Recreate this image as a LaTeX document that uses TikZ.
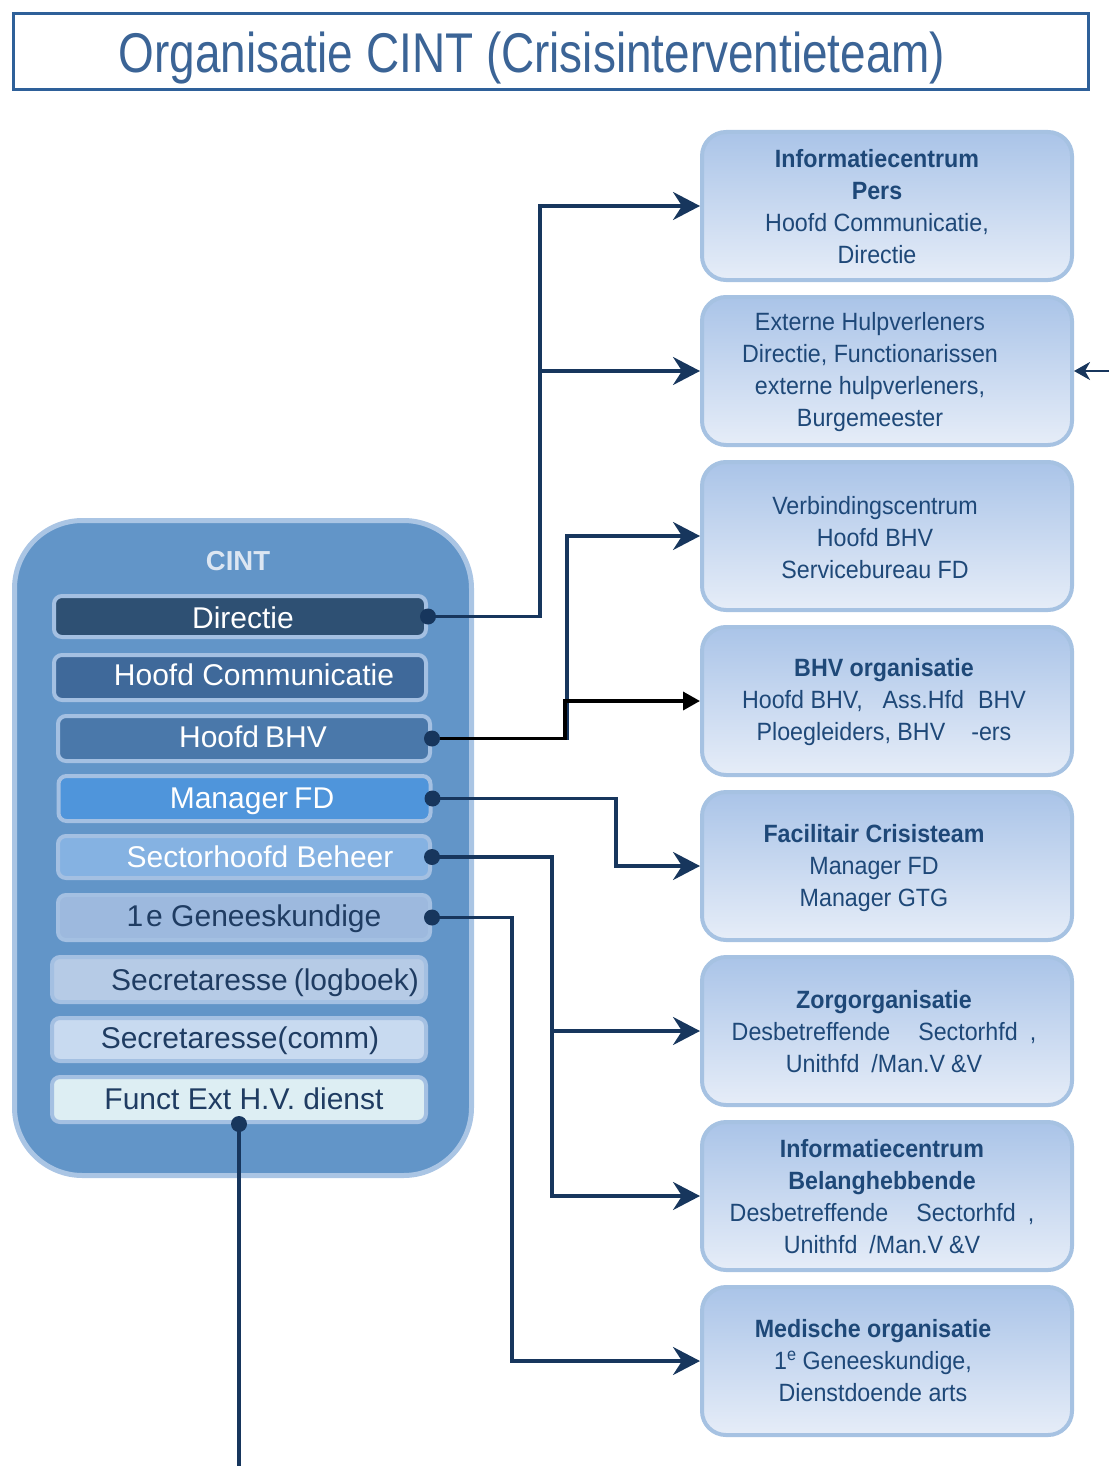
\documentclass[tikz,border=0pt]{standalone}
\usepackage{fontspec}
\setmainfont{Liberation Sans}
\newfontfamily\titlefont[FakeStretch=0.82]{Liberation Sans}
\newfontfamily\rowfont{Liberation Sans}
\newfontfamily\boxfont[FakeStretch=0.93]{Liberation Sans}
\usetikzlibrary{arrows.meta}

\definecolor{titleblue}{RGB}{46,96,153}
\definecolor{titletext}{RGB}{59,100,150}
\definecolor{navy}{RGB}{23,54,93}
\definecolor{panelfill}{RGB}{98,149,200}
\definecolor{paneledge}{RGB}{170,197,228}
\definecolor{rowedge}{RGB}{164,192,226}
\definecolor{rowA}{RGB}{46,80,115}
\definecolor{rowB}{RGB}{63,105,154}
\definecolor{rowC}{RGB}{74,120,170}
\definecolor{rowD}{RGB}{79,149,219}
\definecolor{rowE}{RGB}{133,178,226}
\definecolor{rowF}{RGB}{157,185,222}
\definecolor{rowG}{RGB}{182,203,230}
\definecolor{rowH}{RGB}{200,218,240}
\definecolor{rowI}{RGB}{221,238,243}
\definecolor{rowdark}{RGB}{31,60,98}
\definecolor{cintlbl}{RGB}{220,230,242}
\definecolor{boxtop}{RGB}{170,196,232}
\definecolor{boxbot}{RGB}{230,237,248}
\definecolor{boxedge}{RGB}{166,194,226}
\definecolor{boxtext}{RGB}{30,72,120}

\tikzset{
  conn/.style={draw=navy, line width=3.5pt},
  bigtip/.style={-{Stealth[length=27pt,width=28pt,inset=9pt]}},
  smalltip/.style={-{Stealth[length=16pt,width=18pt,inset=5pt]}},
  rowbox/.style={draw=rowedge, line width=4pt, rounded corners=8pt,
    minimum width=372pt, minimum height=#1, inner sep=0pt},
  rbox/.style={draw=boxedge, line width=4pt, rounded corners=24pt,
    top color=boxtop, bottom color=boxbot,
    minimum width=370pt, minimum height=148pt, inner sep=0pt},
  rtext/.style={font=\boxfont\fontsize{25}{32}\selectfont, text=boxtext,
    align=center, inner sep=0pt},
  rowtext/.style={font=\rowfont\fontsize{30}{36}\selectfont, inner sep=0pt, anchor=base},
  dot/.style={circle, fill=navy, minimum size=16pt, inner sep=0pt},
}

\begin{document}
\begin{tikzpicture}[x=1pt,y=-1pt]
\useasboundingbox (0,0) rectangle (1109,1466);

% title
\node[draw=titleblue, line width=3pt, minimum width=1075pt, minimum height=76pt,
  inner sep=0pt] (titlebox) at (551,51.5) {};
\node[font=\titlefont\fontsize{56}{60}\selectfont, text=titletext, anchor=base,
  inner sep=0pt] (title) at (532,73) {Organisatie CINT (Crisisinterventieteam)};

% CINT panel
\node[draw=paneledge, fill=panelfill, line width=5pt, rounded corners=68pt,
  minimum width=457pt, minimum height=655pt, inner sep=0pt] (cint) at (243,848) {};
\node[font=\bfseries\fontsize{27.5}{30}\selectfont, text=cintlbl, anchor=base,
  inner sep=0pt] (cintlabel) at (238,570) {CINT};

% member rows
\node[rowbox=41pt, fill=rowA] (row1) at (240,616.5) {};
\node[rowbox=45pt, fill=rowB] (row2) at (240,677.5) {};
\node[rowbox=45pt, fill=rowC] (row3) at (244,738.5) {};
\node[rowbox=45pt, fill=rowD] (row4) at (244.5,798.5) {};
\node[rowbox=42pt, fill=rowE] (row5) at (244,857) {};
\node[rowbox=45pt, fill=rowF] (row6) at (244,917.5) {};
\node[rowbox=45pt, fill=rowG, minimum width=374pt] (row7) at (239,979.5) {};
\node[rowbox=43pt, fill=rowH, minimum width=374pt] (row8) at (239,1039.5) {};
\node[rowbox=45pt, fill=rowI, minimum width=374pt] (row9) at (239,1099.5) {};

\node[rowtext, text=white] (l1) at (243,628) {Directie};
\node[rowtext, text=white] (l2) at (254,685) {Hoofd Communicatie};
\node[rowtext, text=white] (l3) at (253,747) {Hoofd\hspace{6pt}BHV};
\node[rowtext, text=white] (l4) at (252,808) {Manager\hspace{6pt}FD};
\node[rowtext, text=white] (l5) at (260,867) {Sectorhoofd Beheer};
\node[rowtext, text=rowdark] (l6) at (254,926) {1\kern3pt e Geneeskundige};
\node[rowtext, text=rowdark] (l7) at (265,990) {Secretaresse\hspace{6pt}(logboek)};
\node[rowtext, text=rowdark] (l8) at (240,1048) {Secretaresse(comm)};
\node[rowtext, text=rowdark] (l9) at (244,1109) {Funct Ext H.V. dienst};

% right-hand boxes
\node[rbox] (r1) at (887,206) {};
\node[rbox] (r2) at (887,371) {};
\node[rbox] (r3) at (887,536) {};
\node[rbox] (r4) at (887,701) {};
\node[rbox] (r5) at (887,866) {};
\node[rbox] (r6) at (887,1031) {};
\node[rbox] (r7) at (887,1196) {};
\node[rbox] (r8) at (887,1361) {};

\node[rtext] (t1) at (877,207) {\textbf{Informatiecentrum}\\\textbf{Pers}\\Hoofd Communicatie,\\Directie};
\node[rtext] (t2) at (870,372) {Externe Hulpverleners\\Directie, Functionarissen\\externe hulpverleners,\\Burgemeester};
\node[rtext] (t3) at (875,538) {Verbindingscentrum\\Hoofd BHV\\Servicebureau FD};
\node[rtext] (t4) at (884,702) {\textbf{BHV organisatie}\\Hoofd BHV,\hspace{20pt}Ass.Hfd\hspace{14pt}BHV\\Ploegleiders, BHV\hspace{26pt}-ers};
\node[rtext] (t5) at (874,868) {\textbf{Facilitair Crisisteam}\\Manager FD\\Manager GTG};
\node[rtext] (t6) at (884,1032) {\textbf{Zorgorganisatie}\\Desbetreffende\hspace{28pt}Sectorhfd\hspace{12pt},\\Unithfd\hspace{12pt}/Man.V\hspace{6pt}\&V};
\node[rtext] (t7) at (882,1197) {\textbf{Informatiecentrum}\\\textbf{Belanghebbende}\\Desbetreffende\hspace{28pt}Sectorhfd\hspace{12pt},\\Unithfd\hspace{12pt}/Man.V\hspace{6pt}\&V};
\node[rtext] (t8) at (873,1361) {\textbf{Medische organisatie}\\1\textsuperscript{e}\hspace{6pt}Geneeskundige,\\Dienstdoende arts};

% elbow columns
\coordinate (k1) at (540,0);
\coordinate (k2) at (567,0);
\coordinate (k2b) at (565,0);
\coordinate (k3) at (616,0);
\coordinate (k4) at (552,0);
\coordinate (k5) at (512,0);
\coordinate (bot) at (0,1466);
\coordinate (ext) at (1109,371);

% connectors
\draw[conn, bigtip] (row1.east) -| (k1 |- r1.west) -- (r1.west);
\draw[conn, bigtip] (k1 |- r2.west) -- (r2.west);
\draw[conn, bigtip] (row3.east) -| (k2 |- r3.west) -- (r3.west);
\draw[line width=3.5pt, black, -{Triangle[length=17pt,width=18pt]}]
  (row3.east) -| (k2b |- r4.west) -- (r4.west);
\draw[conn, bigtip] (row4.east) -| (k3 |- r5.west) -- (r5.west);
\draw[conn, bigtip] (row5.east) -| (k4 |- r7.west) -- (r7.west);
\draw[conn, bigtip] (k4 |- r6.west) -- (r6.west);
\draw[conn, bigtip] (row6.east) -| (k5 |- r8.west) -- (r8.west);
\draw[conn] (row9.south) -- (row9.south |- bot);
\draw[conn, line width=2.5pt, smalltip] (ext) -- (r2.east);

% connection dots
\node[dot] (d1) at (row1.east) {};
\node[dot] (d3) at (row3.east) {};
\node[dot] (d4) at (row4.east) {};
\node[dot] (d5) at (row5.east) {};
\node[dot] (d6) at (row6.east) {};
\node[dot] (d9) at (row9.south) {};
\end{tikzpicture}
\end{document}
